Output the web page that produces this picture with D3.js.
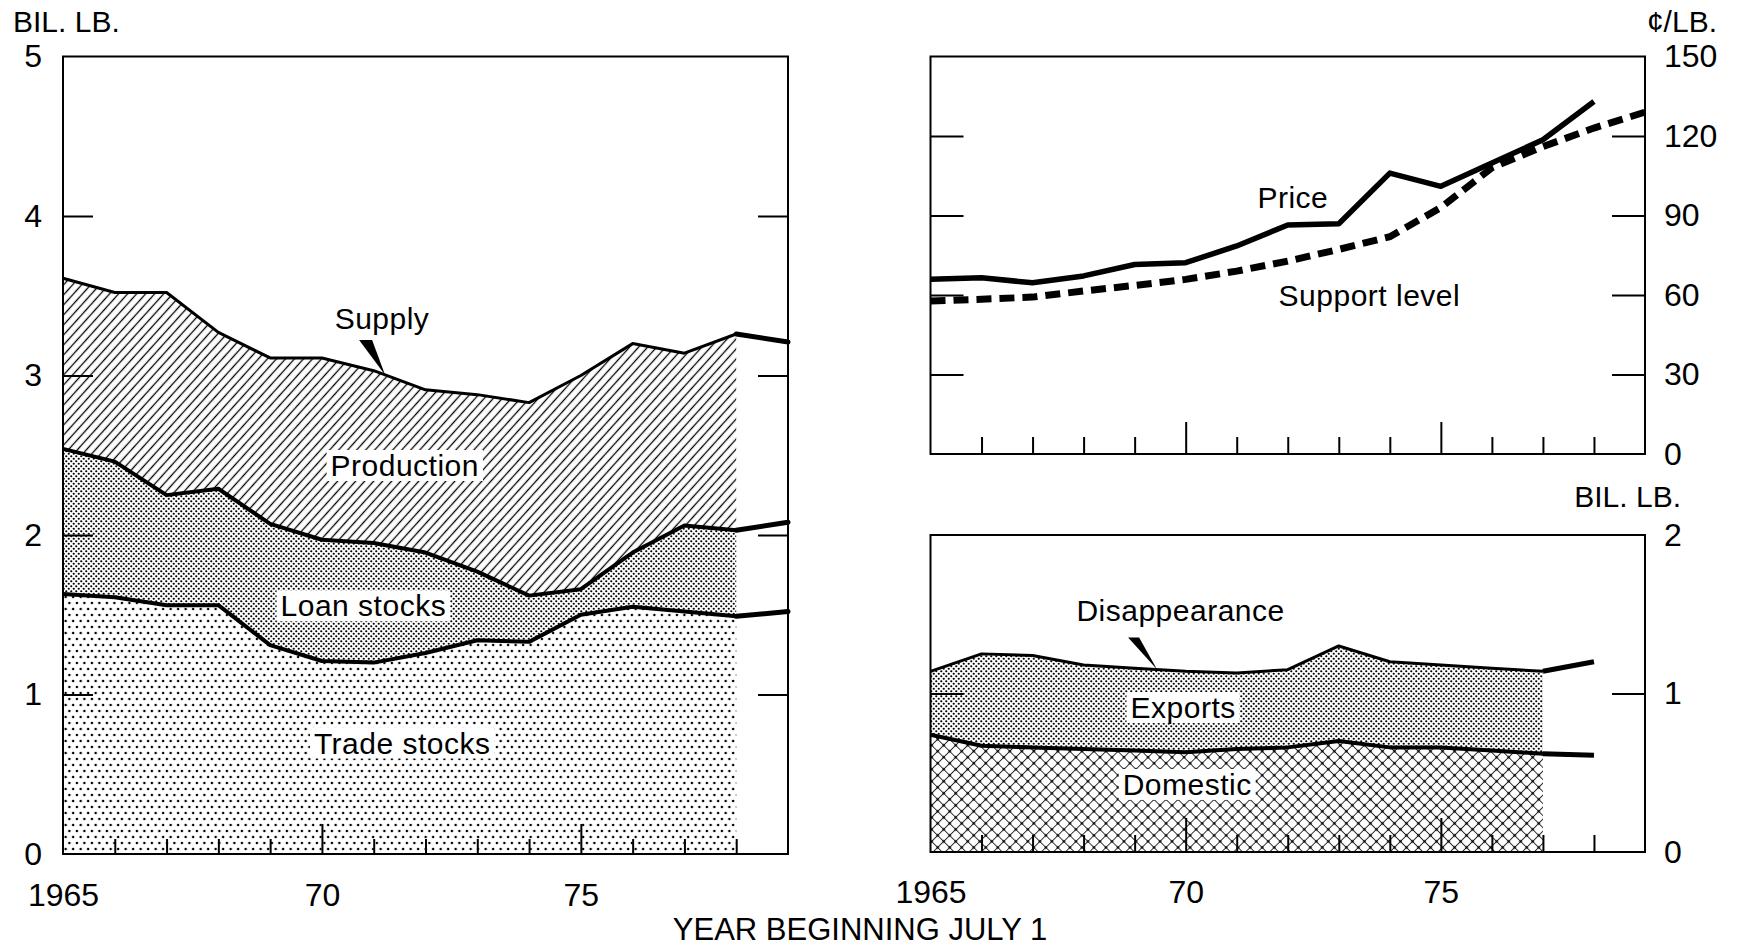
<!DOCTYPE html>
<html>
<head>
<meta charset="utf-8">
<script src="https://cdnjs.cloudflare.com/ajax/libs/d3/7.8.5/d3.min.js"></script>
<style>
  body { margin: 0; background: #fff; }
  text { font-family: "Liberation Sans", Arial, Helvetica, sans-serif; fill: #000; }
</style>
</head>
<body>
<div id="chart"></div>
<script>
// ---- data ----
var years = [1965, 1966, 1967, 1968, 1969, 1970, 1971, 1972, 1973, 1974, 1975, 1976, 1977, 1978, 1979];

// supply, bil. lb. (stacked: trade stocks + loan stocks + production = supply)
var tradeStocks = [1.63, 1.61, 1.56, 1.56, 1.31, 1.21, 1.20, 1.26, 1.34, 1.33, 1.50, 1.55, 1.52, 1.49, 1.52];
var loanStocks  = [0.91, 0.85, 0.69, 0.73, 0.76, 0.76, 0.75, 0.63, 0.43, 0.29, 0.16, 0.34, 0.54, 0.54, 0.56];
var production  = [1.07, 1.06, 1.27, 0.98, 1.04, 1.14, 1.08, 1.02, 1.11, 1.21, 1.34, 1.31, 1.08, 1.23, 1.13];

// cents per lb.
var priceYears = [1965, 1966, 1967, 1968, 1969, 1970, 1971, 1972, 1973, 1974, 1975, 1976, 1977, 1978];
var price      = [65.9, 66.5, 64.6, 67.2, 71.5, 72.2, 78.5, 86.4, 86.9, 106, 101, 109.8, 118.6, 133];
var support    = [57.7, 58.4, 59.2, 61.5, 63.6, 65.9, 69, 72.8, 77.2, 82, 93, 108, 116, 123, 129];

// disappearance, bil. lb. (domestic + exports)
var useYears = [1965, 1966, 1967, 1968, 1969, 1970, 1971, 1972, 1973, 1974, 1975, 1976, 1977, 1978];
var domestic = [0.74, 0.67, 0.66, 0.65, 0.64, 0.63, 0.65, 0.66, 0.70, 0.66, 0.66, 0.64, 0.62, 0.61];
var exports  = [0.40, 0.58, 0.58, 0.53, 0.52, 0.51, 0.48, 0.49, 0.60, 0.54, 0.52, 0.52, 0.52, 0.59];

var yTicksSupply = [0, 1, 2, 3, 4, 5];
var yTicksPrice = [0, 30, 60, 90, 120, 150];
var yTicksUse = [0, 1, 2];
var xLabelYears = [1965, 1970, 1975];
var minorYears = [1966, 1967, 1968, 1969, 1971, 1972, 1973, 1974, 1976, 1977, 1978];
var majorYears = [1970, 1975];

var W = 1737, H = 950;

var svg = d3.select("#chart")
    .append("svg")
    .attr("width", W)
    .attr("height", H);

svg.append("rect").attr("width", W).attr("height", H).attr("fill", "#fff");

// ---- fill patterns ----
var defs = svg.append("defs");

function dotPattern(id, w, h, pts, r) {
    var p = defs.append("pattern")
        .attr("id", id)
        .attr("patternUnits", "userSpaceOnUse")
        .attr("width", w)
        .attr("height", h);
    p.append("rect").attr("width", w).attr("height", h).attr("fill", "#fff");
    pts.forEach(function (pt) {
        p.append("circle").attr("cx", pt[0]).attr("cy", pt[1]).attr("r", r).attr("fill", "#000");
    });
}

dotPattern("dotsDense", 5, 5, [[1.25, 1.25], [3.75, 3.75]], 1.1);
dotPattern("dotsSparse", 7.5, 12, [[1.9, 3], [5.65, 9]], 1.25);

var hatch = defs.append("pattern")
    .attr("id", "hatch")
    .attr("patternUnits", "userSpaceOnUse")
    .attr("width", 6.7)
    .attr("height", 10)
    .attr("patternTransform", "rotate(42)");
hatch.append("rect").attr("width", 6.7).attr("height", 10).attr("fill", "#fff");
hatch.append("line").attr("x1", 3.35).attr("x2", 3.35).attr("y1", 0).attr("y2", 10)
    .attr("stroke", "#000").attr("stroke-width", 1.3);

var cross = defs.append("pattern")
    .attr("id", "cross")
    .attr("patternUnits", "userSpaceOnUse")
    .attr("width", 8.5)
    .attr("height", 8.5)
    .attr("patternTransform", "rotate(45)");
cross.append("rect").attr("width", 8.5).attr("height", 8.5).attr("fill", "#fff");
cross.append("line").attr("x1", 4.25).attr("x2", 4.25).attr("y1", 0).attr("y2", 8.5)
    .attr("stroke", "#000").attr("stroke-width", 0.8);
cross.append("line").attr("y1", 4.25).attr("y2", 4.25).attr("x1", 0).attr("x2", 8.5)
    .attr("stroke", "#000").attr("stroke-width", 0.8);
cross.append("circle").attr("cx", 4.25).attr("cy", 4.25).attr("r", 1.3).attr("fill", "#000");

// ---- helpers ----
function inwardTicks(g, scale, orient, pos, values, len) {
    var axis = orient === "left" ? d3.axisLeft(scale)
             : orient === "right" ? d3.axisRight(scale)
             : d3.axisBottom(scale);
    var t = orient === "bottom" ? "translate(0," + pos + ")" : "translate(" + pos + ",0)";
    g.append("g")
        .attr("transform", t)
        .call(axis.tickValues(values).tickSize(-len).tickFormat(""))
        .call(function (a) { a.select(".domain").remove(); })
        .selectAll("line")
        .attr("stroke", "#000")
        .attr("stroke-width", 2);
}

function tickLabels(g, axis, t, size) {
    g.append("g")
        .attr("transform", t)
        .call(axis)
        .call(function (a) { a.select(".domain").remove(); a.selectAll("line").remove(); })
        .selectAll("text")
        .style("font-size", size + "px")
        .style("font-family", "'Liberation Sans', Arial, sans-serif")
        .attr("fill", "#000");
}

function label(g, txt, x, y, boxed) {
    var t = g.append("text")
        .attr("x", x)
        .attr("y", y)
        .attr("text-anchor", "middle")
        .style("font-size", "30px")
        .style("letter-spacing", "0.5px")
        .text(txt);
    if (boxed) {
        var b = t.node().getBBox();
        g.insert("rect", function () { return t.node(); })
            .attr("x", b.x - 4)
            .attr("y", b.y + 1)
            .attr("width", b.width + 8)
            .attr("height", b.height - 2)
            .attr("fill", "#fff");
    }
}

function pointer(g, tip, dx1, dx2, dy) {
    g.append("path")
        .attr("d", "M" + (tip[0] - dx1) + "," + (tip[1] - dy) +
                   "L" + (tip[0] - dx2) + "," + (tip[1] - dy) +
                   "L" + tip[0] + "," + tip[1] + "Z")
        .attr("fill", "#000");
}

function yearLabel(d) { return d === 1965 ? "1965" : String(d).slice(2); }

// ================= LEFT PANEL: supply =================
var xL = d3.scaleLinear().domain([1965, 1979]).range([63, 788]);
var yL = d3.scaleLinear().domain([0, 5]).range([854, 56.5]);
var gL = svg.append("g");

var supplyRows = years.map(function (yr, i) {
    return { year: yr, trade: tradeStocks[i], loan: loanStocks[i], production: production[i] };
});
var supplyStack = d3.stack().keys(["trade", "loan", "production"])(supplyRows);
var supplyFill = { trade: "url(#dotsSparse)", loan: "url(#dotsDense)", production: "url(#hatch)" };
var supplyWidth = { trade: 4, loan: 4, production: 3 };

var areaL = d3.area()
    .x(function (d) { return xL(d.data.year); })
    .y0(function (d) { return yL(d[0]); })
    .y1(function (d) { return yL(d[1]); });
var lineL = d3.line()
    .x(function (d) { return xL(d.data.year); })
    .y(function (d) { return yL(d[1]); });

gL.selectAll(".layer")
    .data(supplyStack)
    .enter()
    .append("path")
    .attr("d", function (s) { return areaL(s.filter(function (d) { return d.data.year <= 1978; })); })
    .attr("fill", function (s) { return supplyFill[s.key]; });

// labels sit on white knock-outs inside the fills
label(gL, "Production", xL(1971.6), yL(2.37), true);
label(gL, "Loan stocks", xL(1970.8), yL(1.49), true);
label(gL, "Trade stocks", xL(1971.55), yL(0.63), true);

gL.selectAll(".edge")
    .data(supplyStack)
    .enter()
    .append("path")
    .attr("d", function (s) { return lineL(s.filter(function (d) { return d.data.year <= 1978; })); })
    .attr("fill", "none")
    .attr("stroke", "#000")
    .attr("stroke-width", function (s) { return supplyWidth[s.key]; })
    .attr("stroke-linejoin", "round");

// 1979 extension, heavier
gL.selectAll(".ext")
    .data(supplyStack)
    .enter()
    .append("path")
    .attr("d", function (s) { return lineL(s.filter(function (d) { return d.data.year >= 1978; })); })
    .attr("fill", "none")
    .attr("stroke", "#000")
    .attr("stroke-width", 5)
    .attr("stroke-linecap", "round");

// frame
gL.append("rect")
    .attr("x", xL(1965)).attr("y", yL(5))
    .attr("width", xL(1979) - xL(1965)).attr("height", yL(0) - yL(5))
    .attr("fill", "none").attr("stroke", "#000").attr("stroke-width", 2);

inwardTicks(gL, yL, "left", xL(1965), [1, 2, 3, 4], 30);
inwardTicks(gL, yL, "right", xL(1979), [1, 2, 3, 4], 30);
inwardTicks(gL, xL, "bottom", yL(0), minorYears, 15);
inwardTicks(gL, xL, "bottom", yL(0), majorYears, 30);

tickLabels(gL, d3.axisLeft(yL).tickValues(yTicksSupply).tickSize(0).tickPadding(21).tickFormat(d3.format("d")),
    "translate(" + xL(1965) + ",0)", 32);
tickLabels(gL, d3.axisBottom(xL).tickValues(xLabelYears).tickSize(0).tickPadding(29).tickFormat(yearLabel),
    "translate(0," + yL(0) + ")", 32);

// Supply annotation
var supplyTop = supplyStack[2];
var tipYear = 1971.22;
var tipVal = d3.interpolate(supplyTop[6][1], supplyTop[7][1])(tipYear - 1971);
label(gL, "Supply", xL(1971.16), yL(3.29), false);
pointer(gL, [xL(tipYear), yL(tipVal)], 26, 13, 35);

gL.append("text")
    .attr("x", 13).attr("y", 32)
    .style("font-size", "30px")
    .text("BIL. LB.");

// ================= TOP RIGHT: price =================
var xR = d3.scaleLinear().domain([1965, 1979]).range([930.5, 1645]);
var yP = d3.scaleLinear().domain([0, 150]).range([454, 56.5]);
var gP = svg.append("g");

gP.append("rect")
    .attr("x", xR(1965)).attr("y", yP(150))
    .attr("width", xR(1979) - xR(1965)).attr("height", yP(0) - yP(150))
    .attr("fill", "none").attr("stroke", "#000").attr("stroke-width", 2);

inwardTicks(gP, yP, "left", xR(1965), [30, 60, 90, 120], 33);
inwardTicks(gP, yP, "right", xR(1979), [30, 60, 90, 120], 33);
inwardTicks(gP, xR, "bottom", yP(0), minorYears, 17);
inwardTicks(gP, xR, "bottom", yP(0), majorYears, 32);

tickLabels(gP, d3.axisRight(yP).tickValues(yTicksPrice).tickSize(0).tickPadding(19).tickFormat(d3.format("d")),
    "translate(" + xR(1979) + ",0)", 32);

gP.append("path")
    .datum(support)
    .attr("d", d3.line().x(function (d, i) { return xR(years[i]); }).y(function (d) { return yP(d); }))
    .attr("fill", "none")
    .attr("stroke", "#000")
    .attr("stroke-width", 7)
    .attr("stroke-dasharray", "15,8");

gP.append("path")
    .datum(price)
    .attr("d", d3.line().x(function (d, i) { return xR(priceYears[i]); }).y(function (d) { return yP(d); }))
    .attr("fill", "none")
    .attr("stroke", "#000")
    .attr("stroke-width", 5.5)
    .attr("stroke-linejoin", "round");

label(gP, "Price", xR(1972.1), yP(92.8), false);
label(gP, "Support level", xR(1973.6), yP(55.8), false);

gP.append("text")
    .attr("x", 1717).attr("y", 32)
    .attr("text-anchor", "end")
    .style("font-size", "30px")
    .text("¢/LB.");

// ================= BOTTOM RIGHT: disappearance =================
var yD = d3.scaleLinear().domain([0, 2]).range([852, 535]);
var gD = svg.append("g");

var useRows = useYears.map(function (yr, i) {
    return { year: yr, domestic: domestic[i], exports: exports[i] };
});
var useStack = d3.stack().keys(["domestic", "exports"])(useRows);
var useFill = { domestic: "url(#cross)", exports: "url(#dotsDense)" };
var useWidth = { domestic: 4, exports: 3 };

var areaD = d3.area()
    .x(function (d) { return xR(d.data.year); })
    .y0(function (d) { return yD(d[0]); })
    .y1(function (d) { return yD(d[1]); });
var lineD = d3.line()
    .x(function (d) { return xR(d.data.year); })
    .y(function (d) { return yD(d[1]); });

gD.selectAll(".layer")
    .data(useStack)
    .enter()
    .append("path")
    .attr("d", function (s) { return areaD(s.filter(function (d) { return d.data.year <= 1977; })); })
    .attr("fill", function (s) { return useFill[s.key]; });

label(gD, "Exports", xR(1969.95), yD(0.845), true);
label(gD, "Domestic", xR(1970.03), yD(0.36), true);

gD.selectAll(".edge")
    .data(useStack)
    .enter()
    .append("path")
    .attr("d", function (s) { return lineD(s.filter(function (d) { return d.data.year <= 1977; })); })
    .attr("fill", "none")
    .attr("stroke", "#000")
    .attr("stroke-width", function (s) { return useWidth[s.key]; })
    .attr("stroke-linejoin", "round");

gD.selectAll(".ext")
    .data(useStack)
    .enter()
    .append("path")
    .attr("d", function (s) { return lineD(s.filter(function (d) { return d.data.year >= 1977; })); })
    .attr("fill", "none")
    .attr("stroke", "#000")
    .attr("stroke-width", 5);

gD.append("rect")
    .attr("x", xR(1965)).attr("y", yD(2))
    .attr("width", xR(1979) - xR(1965)).attr("height", yD(0) - yD(2))
    .attr("fill", "none").attr("stroke", "#000").attr("stroke-width", 2);

inwardTicks(gD, yD, "left", xR(1965), [1], 33);
inwardTicks(gD, yD, "right", xR(1979), [1], 33);
inwardTicks(gD, xR, "bottom", yD(0), minorYears, 17);
inwardTicks(gD, xR, "bottom", yD(0), majorYears, 34);

tickLabels(gD, d3.axisRight(yD).tickValues(yTicksUse).tickSize(0).tickPadding(19).tickFormat(d3.format("d")),
    "translate(" + xR(1979) + ",0)", 32);
tickLabels(gD, d3.axisBottom(xR).tickValues(xLabelYears).tickSize(0).tickPadding(28).tickFormat(yearLabel),
    "translate(0," + yD(0) + ")", 32);

// Disappearance annotation
var useTop = useStack[1];
var dTipYear = 1969.44;
var dTipVal = d3.interpolate(useTop[4][1], useTop[5][1])(dTipYear - 1969);
label(gD, "Disappearance", xR(1969.9), yD(1.46), false);
pointer(gD, [xR(dTipYear), yD(dTipVal)], 29, 18, 32);

gD.append("text")
    .attr("x", 1681).attr("y", 507)
    .attr("text-anchor", "end")
    .style("font-size", "30px")
    .text("BIL. LB.");

// shared x title
svg.append("text")
    .attr("x", 860).attr("y", 940)
    .attr("text-anchor", "middle")
    .style("font-size", "31px")
    .text("YEAR BEGINNING JULY 1");
</script>
</body>
</html>
